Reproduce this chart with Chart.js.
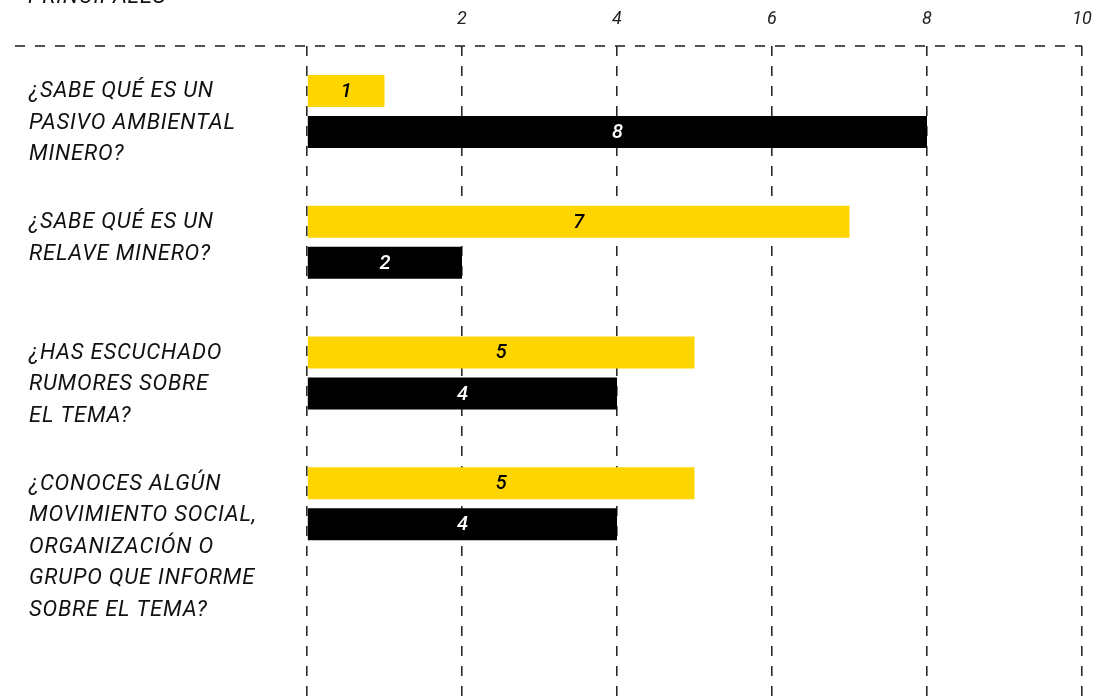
<!DOCTYPE html>
<html>
<head>
<meta charset="utf-8">
<script src="https://cdn.jsdelivr.net/npm/chart.js@4/dist/chart.umd.min.js"></script>
<style>
  html, body { margin: 0; padding: 0; background: #fff; overflow: hidden; }
  #wrap { position: relative; width: 1101px; height: 700px; }
</style>
</head>
<body>
<div id="wrap"><canvas id="myChart"></canvas></div>
<script>
// Preguntas (cada una en varias líneas, como en la imagen)
const preguntas = [
    ['¿SABE QUÉ ES UN', 'PASIVO AMBIENTAL', 'MINERO?'],
    ['¿SABE QUÉ ES UN', 'RELAVE MINERO?'],
    ['¿HAS ESCUCHADO', 'RUMORES SOBRE', 'EL TEMA?'],
    ['¿CONOCES ALGÚN', 'MOVIMIENTO SOCIAL,', 'ORGANIZACIÓN O', 'GRUPO QUE INFORME', 'SOBRE EL TEMA?']
];

// Valores por serie
const serieAmarilla = [1, 7, 5, 5];
const serieNegra = [8, 2, 4, 4];

// Ticks del eje x
const ticksX = [0, 2, 4, 6, 8, 10];

const FONT = 'Roboto, "DejaVu Sans", sans-serif';

// Etiquetas de preguntas, alineadas con la barra amarilla
const preguntasPlugin = {
    id: 'preguntas',
    afterDraw(chart) {
        const ctx = chart.ctx;
        const meta = chart.getDatasetMeta(0);
        ctx.save();
        ctx.fillStyle = '#111';
        ctx.font = 'italic 400 22px ' + FONT;
        ctx.letterSpacing = '0.8px';
        ctx.textAlign = 'left';
        ctx.textBaseline = 'middle';
        preguntas.forEach((lineas, i) => {
            const bar = meta.data[i];
            if (!bar) return;
            lineas.forEach((txt, j) => {
                ctx.fillText(txt, 29, bar.y + 1 + j * 31.5);
            });
        });
        // titulo cortado arriba
        ctx.textBaseline = 'alphabetic';
        ctx.fillText('PRINCIPALES', 28, 3);
        ctx.restore();
    }
};

// Linea punteada superior, desde el borde izquierdo
const lineaSuperior = {
    id: 'lineaSuperior',
    beforeDatasetsDraw(chart) {
        const ctx = chart.ctx;
        const a = chart.chartArea;
        ctx.save();
        ctx.strokeStyle = '#2a2a2a';
        ctx.lineWidth = 1.6;
        ctx.setLineDash([10, 10]);
        ctx.beginPath();
        ctx.moveTo(15, a.top);
        ctx.lineTo(a.right, a.top);
        ctx.stroke();
        ctx.restore();
    }
};

// Numeros dentro de las barras
const valoresPlugin = {
    id: 'valores',
    afterDatasetsDraw(chart) {
        const ctx = chart.ctx;
        ctx.save();
        ctx.font = 'italic 500 20px ' + FONT;
        ctx.textAlign = 'center';
        ctx.textBaseline = 'middle';
        chart.data.datasets.forEach((ds, d) => {
            chart.getDatasetMeta(d).data.forEach((bar, i) => {
                ctx.fillStyle = d === 0 ? '#000' : '#fff';
                ctx.fillText(ds.data[i], (bar.x + bar.base) / 2, bar.y + 1);
            });
        });
        ctx.restore();
    }
};

const config = {
    type: 'bar',
    data: {
        // fila vacia al final para dejar el espacio de abajo
        labels: preguntas.map(p => p.join(' ')).concat(['']),
        datasets: [
            {
                label: 'Sí',
                data: serieAmarilla,
                backgroundColor: '#ffd500',
                barPercentage: 0.78,
                categoryPercentage: 0.627
            },
            {
                label: 'No',
                data: serieNegra,
                backgroundColor: '#000',
                barPercentage: 0.78,
                categoryPercentage: 0.627
            }
        ]
    },
    options: {
        indexAxis: 'y',
        responsive: true,
        maintainAspectRatio: false,
        animation: false,
        layout: { padding: { left: 307, right: 19, top: 0, bottom: 0 } },
        plugins: {
            legend: { display: false },
            tooltip: { enabled: false }
        },
        scales: {
            x: {
                position: 'top',
                min: ticksX[0],
                max: ticksX[ticksX.length - 1],
                afterFit: s => {
                    s.height = 46;
                    s.paddingLeft = 0;
                    s.paddingRight = 0;
                },
                afterBuildTicks: s => { s.ticks = ticksX.map(v => ({ value: v })); },
                ticks: {
                    padding: 16,
                    color: '#222',
                    font: { family: FONT, size: 18, style: 'italic' },
                    callback: v => v === 0 ? '' : v
                },
                grid: { color: '#2a2a2a', lineWidth: 1.6, drawTicks: false },
                border: { display: false, dash: [10, 10] }
            },
            y: {
                display: false
            }
        }
    },
    plugins: [preguntasPlugin, lineaSuperior, valoresPlugin]
};

new Chart(document.querySelector('#myChart').getContext('2d'), config);
</script>
</body>
</html>
